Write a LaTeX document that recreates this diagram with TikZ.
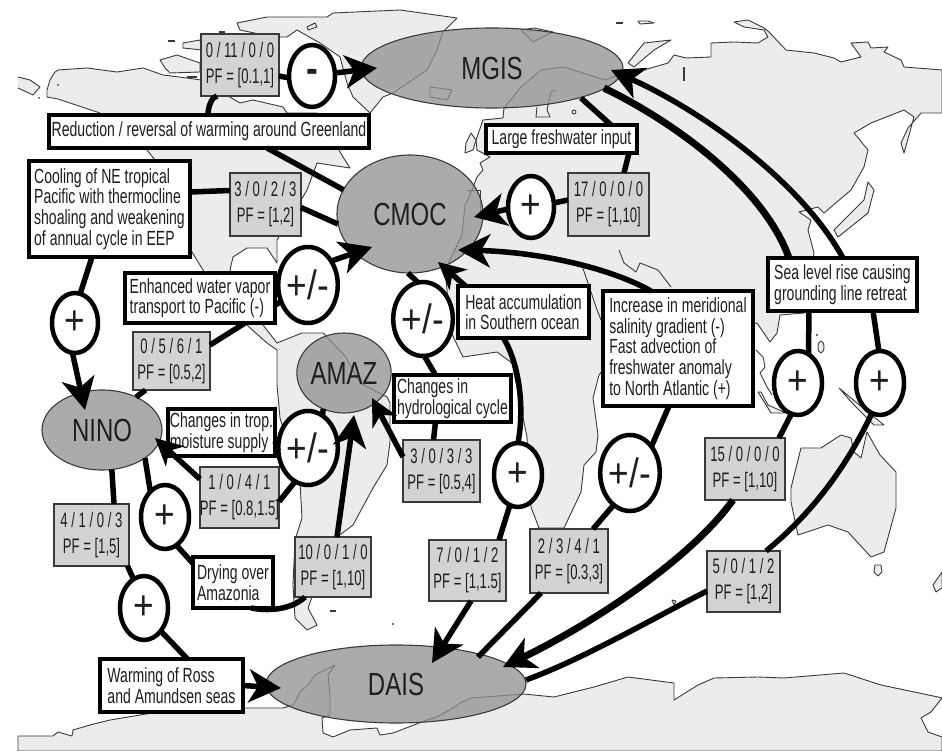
\documentclass[tikz,border=0pt]{standalone}
\usepackage{fontspec}
\usetikzlibrary{arrows.meta,shapes.geometric,calc}
\newfontfamily\narfont[FakeStretch=0.685]{Liberation Sans}
\newfontfamily\pffont[FakeStretch=0.625]{Liberation Sans}
\newfontfamily\bigfont[FakeStretch=0.75]{Liberation Sans}
\newfontfamily\signfont[FakeStretch=0.86]{Liberation Sans}
\definecolor{land}{HTML}{ECECEC}
\definecolor{coast}{HTML}{3A3A3A}
\definecolor{ellfill}{HTML}{909092}
\definecolor{pffill}{HTML}{D3D3D5}
\definecolor{ink}{HTML}{1E1E1E}
\tikzset{
  map/.style={fill=land,draw=coast,line width=0.9pt,line join=round},
  mapline/.style={draw=coast,line width=0.9pt,line join=round},
  tb/.style={draw=black,fill=white,line width=3.8pt,rectangle,inner sep=0pt,outer sep=0pt,align=left,text=ink,font=\narfont\fontsize{20.5}{20.6}\selectfont},
  pf/.style={draw=coast,fill=pffill,line width=1.3pt,rectangle,inner sep=0pt,outer sep=0pt,align=center,text=ink,font=\pffont\fontsize{21}{26}\selectfont},
  hub/.style={ellipse,draw=coast,line width=1.1pt,fill=ellfill,fill opacity=0.75,text opacity=1,inner sep=0pt,outer sep=0pt,text=ink,font=\bigfont\fontsize{32}{32}\selectfont},
  sign/.style={ellipse,draw=black,fill=white,line width=4.5pt,inner sep=0pt,outer sep=0pt,text=ink,font=\signfont\fontsize{41}{41}\selectfont},
  link/.style={draw=black,line width=5.5pt},
  fat/.style={draw=black,line width=7pt},
  head/.style={-{Stealth[length=32pt,width=33pt,inset=9pt]}},
  shead/.style={-{Stealth[length=27pt,width=27pt,inset=8pt]}},
}
\begin{document}
\begin{tikzpicture}[x=1pt,y=-1pt]
\useasboundingbox (0,0) rectangle (942,751);
\fill[white] (0,0) rectangle (942,751);
% ---------- map ----------
\path[map] (18,736)--(53,736)--(58,732)--(72,736)--(73,730)--(90,725)--(110,720)--(140,715)--(170,710)--(245,708)--(283,708)--(293,705)--(296,700)--(300,692)--(308,685)--(315,675)--(335,665)--(328,675)--(330,695)--(330,715)--(322,718)--(323,733)--(333,737)--(350,730)--(377,728)--(380,735)--(393,733)--(427,720)--(437,717)--(453,708)--(460,703)--(471,698)--(524,694)--(554,697)--(594,687)--(628,677)--(674,683)--(674,700)--(698,685)--(714,678)--(758,677)--(784,678)--(844,673)--(881,685)--(938,697)--(942,698)--(931,712)--(921,718)--(928,732)--(942,737)--(942,751)--(18,751)--cycle;
% far-left piece
\path[map] (18,77)--(30,80)--(40,87)--(33,95)--(18,88);
% Americas
\path[map] (47,90)--(50,80)--(55,72)--(58,70)--(87,68)--(117,72)--(143,68)--(163,75)--(187,78)--(201,80)--(240,103)--(253,100)--(283,107)--(287,113)--(317,113)--(343,157)--(350,168)--(330,165)--(317,163)--(307,190)--(297,207)--(277,240)--(277,263)--(267,248)--(247,248)--(233,257)--(230,270)--(263,325)--(277,343)--(302,333)--(323,333)--(346,357)--(360,383)--(387,397)--(390,403)--(390,442)--(387,465)--(373,488)--(353,525)--(333,540)--(308,608)--(317,625)--(307,630)--(295,618)--(293,585)--(295,540)--(302,518)--(300,482)--(280,418)--(277,385)--(277,350)--(267,343)--(248,326)--(203,270)--(192,252)--(155,160)--(147,150)--(100,113)--(58,99)--(47,97)--cycle;
% Greenland
\path[map] (237,23)--(267,17)--(327,17)--(333,13)--(400,10)--(457,18)--(443,32)--(437,50)--(427,70)--(393,93)--(383,97)--(370,113)--(353,97)--(347,83)--(340,57)--(320,43)--(297,30)--(287,37)--(273,37)--(240,30)--cycle;
% Arctic islands
\path[map] (183,43)--(200,40)--(202,50)--(183,48)--cycle;
\path[map] (160,60)--(177,55)--(200,63)--(200,72)--(170,73)--(165,68)--cycle;
\path[map] (307,27)--(315,23)--(317,27)--(308,30)--cycle;
% Iceland
\path[mapline] (430,87)--(452,90)--(447,100)--(430,97)--cycle;
% Svalbard
\path[map] (521,30)--(534,28)--(553,32)--(533,42)--cycle;
% Eurasia and Africa
\path[map] (504,108)--(521,87)--(541,70)--(564,67)--(605,80)--(618,75)--(624,70)--(644,70)--(668,63)--(674,55)--(686,58)--(711,57)--(711,43)--(734,42)--(758,43)--(768,37)--(764,30)--(744,27)--(734,22)--(748,20)--(764,28)--(769,32)--(786,50)--(814,53)--(834,58)--(841,62)--(861,57)--(851,43)--(868,42)--(871,48)--(888,47)--(884,52)--(901,60)--(904,67)--(942,70)--(942,113)--(921,113)--(908,128)--(901,143)--(904,153)--(914,117)--(904,110)--(871,123)--(854,133)--(868,150)--(864,167)--(851,190)--(831,207)--(824,213)--(818,207)--(799,212)--(811,220)--(808,230)--(814,253)--(804,313)--(780,315)--(777,333)--(770,342)--(757,323)--(650,340)--(603,370)--(599,375)--(593,398)--(598,435)--(596,452)--(584,465)--(581,492)--(564,528)--(539,528)--(531,507)--(527,437)--(512,363)--(497,352)--(463,357)--(450,330)--(447,290)--(445,270)--(462,235)--(465,205)--(470,195)--(477,177)--(483,170)--(480,163)--(490,157)--(477,150)--(476,140)--(483,120)--(503,118)--cycle;
\path[mapline] (581,263)--(588,283)--(596,307)--(601,320);
\path[mapline] (619,250)--(624,263)--(636,272)--(640,263)--(658,270)--(671,287);
\path[mapline] (537,107)--(536,117)--(550,117)--(547,110)--(551,92)--(556,90);
\path[mapline] (756,350)--(763,357)--(765,367)--(760,373)--(767,387)--(772,395);
\path[mapline] (467,190)--(480,190)--(480,212);
% Japan
\path[map] (834,230)--(864,200)--(868,182)--(874,190)--(868,213)--(838,237)--cycle;
% Novaya Zemlya and small islands
\path[map] (628,63)--(644,43)--(671,40)--(654,50)--(634,67)--cycle;
\path[map] (638,21)--(648,21)--(654,23)--(640,24)--cycle;
\path[map] (471,133)--(476,140)--(473,150)--(465,153)--(466,143)--cycle;
\path[map] (574,112) circle[radius=2pt];
\path[map] (821,347) ellipse[x radius=3pt,y radius=6pt];
\fill[coast] (817,335) circle[radius=1.2pt];
\fill[coast] (393,624) circle[radius=1.2pt];
\fill[coast] (854,508) ellipse[x radius=1pt,y radius=2.5pt];
\fill[coast] (58,85) circle[radius=1pt];
\fill[coast] (39,98) circle[radius=1pt];
\draw[coast,line width=1.8pt] (168,41)--(175,41);
\draw[coast,line width=1.8pt] (219,32)--(225,32);
\draw[coast,line width=1.8pt] (187,77)--(197,77);
\draw[coast,line width=1.8pt] (616,23)--(623,23);
\draw[coast,line width=1.8pt] (684,67)--(684,81);
\draw[coast,line width=1.8pt] (330,611)--(336,611);
% Sumatra, New Guinea
\path[map] (761,392)--(768,405)--(786,413)--(771,413)--(758,392)--cycle;
\path[map] (839,388)--(851,398)--(868,412)--(884,425)--(874,425)--(854,405)--cycle;
% Australia
\path[map] (791,488)--(801,448)--(821,448)--(841,435)--(851,438)--(854,452)--(861,458)--(867,432)--(880,455)--(896,472)--(896,508)--(884,552)--(871,557)--(848,532)--(828,525)--(798,535)--(791,502)--cycle;
\path[map] (875,565)--(881,565)--(882,572)--(878,576)--(874,572)--cycle;
\path[map] (933,585)--(942,572)--(942,588)--(936,592)--cycle;
\path[map] (672,600)--(676,601)--(674,605)--cycle;
% ---------- hubs ----------
\node[hub,minimum width=262pt,minimum height=80pt] (mgis) at (492,68) {MGIS};
\node[hub,minimum width=146pt,minimum height=118pt] (cmoc) at (410,214) {CMOC};
\node[hub,minimum width=88pt,minimum height=80pt] (amaz) at (344,373) {AMAZ};
\node[hub,minimum width=120pt,minimum height=80pt] (nino) at (102,430) {NINO};
\node[hub,minimum width=260pt,minimum height=78pt] (dais) at (396,684) {DAIS};
% ---------- text boxes ----------
\node[tb,minimum width=320pt,minimum height=33pt] (red) at (209,131.5) {Reduction / reversal of warming around Greenland};
\node[tb,minimum width=161pt,minimum height=96pt] (cool) at (109.5,209) {Cooling of NE tropical\\Pacific with thermocline\\shoaling and weakening\\of annual cycle in EEP};
\node[tb,minimum width=150pt,minimum height=50pt] (enh) at (200,298) {Enhanced water vapor\\transport to Pacific (-)};
\node[tb,minimum width=151pt,minimum height=28pt] (large) at (561.5,139) {Large freshwater input};
\node[tb,minimum width=131pt,minimum height=52pt] (heat) at (523.5,312) {Heat accumulation\\in Southern ocean};
\node[tb,minimum width=150pt,minimum height=115pt] (incr) at (678,348.5) {Increase in meridional\\salinity gradient (-)\\Fast advection of\\freshwater anomaly\\to North Atlantic (+)};
\node[tb,minimum width=149pt,minimum height=53pt] (sea) at (842.5,284.5) {Sea level rise causing\\grounding line retreat};
\node[tb,minimum width=117pt,minimum height=47pt] (hyd) at (452.5,398.5) {Changes in\\hydrological cycle};
\node[tb,minimum width=107pt,minimum height=47pt] (trop) at (221.5,432.5) {Changes in trop.\\moisture supply};
\node[tb,minimum width=80pt,minimum height=51pt] (dry) at (233,582.5) {Drying over\\Amazonia};
\node[tb,minimum width=143pt,minimum height=53pt] (warm) at (171.5,685.5) {Warming of Ross\\and Amundsen seas};
% ---------- evidence boxes ----------
\node[pf,minimum width=78pt,minimum height=62pt] (b0110) at (240,65) {0 / 11 / 0 / 0\\PF = [0.1,1]};
\node[pf,minimum width=71pt,minimum height=63pt] (b3023) at (265.5,204.5) {3 / 0 / 2 / 3\\PF = [1,2]};
\node[pf,minimum width=77pt,minimum height=58pt] (b0561) at (171.5,361) {0 / 5 / 6 / 1\\PF = [0.5,2]};
\node[pf,minimum width=81pt,minimum height=63pt] (b1700) at (608.5,204.5) {17 / 0 / 0 / 0\\PF = [1,10]};
\node[pf,minimum width=75pt,minimum height=62pt] (b4103) at (91.5,535) {4 / 1 / 0 / 3\\PF = [1,5]};
\node[pf,minimum width=77pt,minimum height=61pt] (b1041) at (239.5,497.5) {1 / 0 / 4 / 1\\PF = [0.8,1.5]};
\node[pf,minimum width=76pt,minimum height=60pt] (b1010) at (333,567) {10 / 0 / 1 / 0\\PF = [1,10]};
\node[pf,minimum width=77pt,minimum height=62pt] (b3033) at (441.5,471) {3 / 0 / 3 / 3\\PF = [0.5,4]};
\node[pf,minimum width=77pt,minimum height=61pt] (b7012) at (467.5,570.5) {7 / 0 / 1 / 2\\PF = [1,1.5]};
\node[pf,minimum width=78pt,minimum height=64pt] (b2341) at (569,561) {2 / 3 / 4 / 1\\PF = [0.3,3]};
\node[pf,minimum width=80pt,minimum height=62pt] (b1500) at (745,469) {15 / 0 / 0 / 0\\PF = [1,10]};
\node[pf,minimum width=73pt,minimum height=61pt] (b5012) at (743.5,581.5) {5 / 0 / 1 / 2\\PF = [1,2]};
% ---------- signs ----------
\node[sign,minimum width=46pt,minimum height=62pt] (s1) at (312,76) {\textbf{-}};
\node[sign,minimum width=46pt,minimum height=60pt] (s2) at (75,323) {+};
\node[sign,minimum width=52pt,minimum height=76pt] (s3) at (308,285) {+/-};
\node[sign,minimum width=54pt,minimum height=74pt] (s4) at (423,319) {+/-};
\node[sign,minimum width=46pt,minimum height=62pt] (s5) at (531,207) {+};
\node[sign,minimum width=54pt,minimum height=74pt] (s6) at (308,448) {+/-};
\node[sign,minimum width=48pt,minimum height=64pt] (s7) at (165,517) {+};
\node[sign,minimum width=48pt,minimum height=64pt] (s8) at (144,608) {+};
\node[sign,minimum width=48pt,minimum height=64pt] (s9) at (518,475) {+};
\node[sign,minimum width=54pt,minimum height=76pt] (s10) at (630,473) {+/-};
\node[sign,minimum width=48pt,minimum height=64pt] (s11) at (798,383) {+};
\node[sign,minimum width=48pt,minimum height=64pt] (s12) at (880,383) {+};
% ---------- connectors ----------
\draw[link] ([xshift=-1pt]red.north) .. controls +(0,-9) and +(-5,1) .. ([xshift=-23pt]b0110.south);
\draw[link] ([yshift=-11pt]b0110.east) -- (s1.185);
\draw[link,head] ([yshift=3pt]s1.east) -- ([xshift=-115pt]mgis.center);
\draw[link] ([xshift=58pt]red.south) -- (cmoc.160);
\draw[link] ([yshift=17pt]cool.east) -- ([yshift=14pt]b3023.west);
\draw[link] ([yshift=-3pt]b3023.east) -- (cmoc.188);
\draw[link] ([xshift=-17.5pt]cool.south) -- (s2.80);
\draw[link,head] (s2.265) -- ([xshift=-17pt,yshift=20pt]nino.center);
\draw[link] ([yshift=-7pt]enh.east) -- (s3.212);
\draw[link] ([yshift=16pt]b0561.east) -- ([xshift=45pt]enh.south);
\draw[link,head] (s3.46) -- ([xshift=-38pt,yshift=-33pt]cmoc.center);
\draw[link] (s4.98) -- (cmoc.268);
\draw[link] ([xshift=-17pt]hyd.north) -- (s4.272);
\draw[link] (nino.44) -- ([xshift=-26pt]b0561.south);
\draw[link] (nino.284) -- ([xshift=22.5pt]b4103.north);
\draw[link] ([xshift=36pt]b4103.south) -- (s8.110);
\draw[link] (s8.306) -- ([xshift=16pt]warm.north);
\draw[link,head] (warm.east) -- ([xshift=-115pt,yshift=-4pt]dais.center);
\draw[link] (nino.327) -- (s7.120);
\draw[link] (s7.292) -- ([yshift=19pt]dry.west);
\draw[link] ([xshift=-22pt]dry.south east) .. controls +(22,4) and +(-12,11) .. ([xshift=10pt]b1010.south west);
\draw[link,head] ([xshift=4pt]b1010.north) -- ([xshift=10pt,yshift=-42pt]amaz.center);
\draw[link] ([yshift=-4pt]b1041.east) -- (s6.249);
\draw[link,shead] (b1041.155) -- ([xshift=53pt,yshift=-8pt]nino.center);
\draw[link] ([yshift=-9pt]trop.east) -- (s6.185);
\draw[link] (s6.66) -- (amaz.240);
\draw[link,shead] ([yshift=14pt]b3033.west) -- ([xshift=28pt,yshift=-25pt]amaz.center);
\draw[link] ([xshift=-8pt]b3033.north) -- ([xshift=-17pt]hyd.south);
\draw[link,shead] ([xshift=-58pt]heat.north) -- ([xshift=28pt,yshift=-48pt]cmoc.center);
\draw[link] ([xshift=-20pt]heat.south) .. controls +(15,25) and +(7,-38) .. (s9.90);
\draw[link] (s9.255) -- ([xshift=31.5pt]b7012.north);
\draw[link,head] ([xshift=3.5pt]b7012.south) -- ([xshift=36pt,yshift=21pt]dais.center);
\draw[link,head] ([xshift=-27pt]incr.north) .. controls (610,268) and (540,252) .. ([xshift=48pt,yshift=-36pt]cmoc.center);
\draw[link] ([xshift=-9pt]incr.south) -- (s10.51);
\draw[link] (s10.243) -- ([xshift=24pt]b2341.north);
\draw[link] ([xshift=-28pt]b2341.south) -- ([xshift=82pt,yshift=27pt]dais.center);
\draw[link] ([xshift=49.5pt]large.north) -- ([xshift=89pt,yshift=-30pt]mgis.center);
\draw[link] ([xshift=67.5pt]large.south) -- ([xshift=15.5pt]b1700.north);
\draw[link] ([yshift=4.5pt]b1700.west) -- (s5.10);
\draw[link,head] (s5.185) -- ([xshift=64pt,yshift=-3pt]cmoc.center);
\draw[fat] ([xshift=-53.5pt]sea.north) .. controls (765,190) and (680,125) .. ([xshift=112pt,yshift=-20pt]mgis.center);
\draw[link,head] ([xshift=0.5pt]sea.north) .. controls (800,180) and (700,110) .. ([xshift=119pt,yshift=-2pt]mgis.center);
\draw[link] ([xshift=-33.5pt]sea.south) -- (s11.70);
\draw[link] ([xshift=30.5pt]sea.south) -- (s12.92);
\draw[link] (s11.258) -- ([xshift=34pt]b1500.north);
\draw[fat,head] ([xshift=-12pt]b1500.south) .. controls (690,560) and (590,625) .. ([xshift=107pt,yshift=17pt]dais.center);
\draw[link] (s12.255) .. controls (845,470) and (810,515) .. ([xshift=22.5pt]b5012.north);
\draw[link] ([yshift=-9.5pt]b5012.west) .. controls (650,620) and (585,658) .. ([xshift=130pt,yshift=4pt]dais.center);
\end{tikzpicture}
\end{document}
